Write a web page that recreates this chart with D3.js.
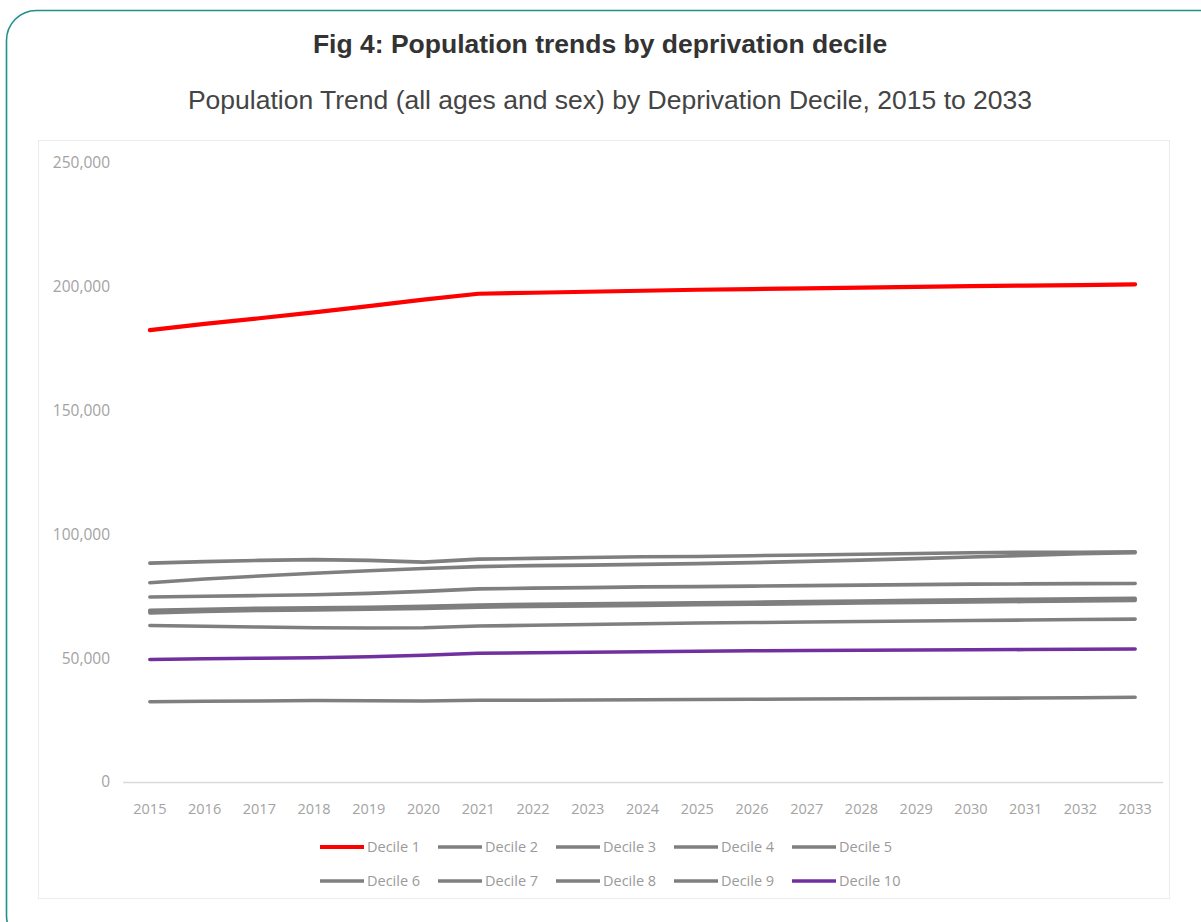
<!DOCTYPE html>
<html>
<head>
<meta charset="utf-8">
<script src="https://cdn.jsdelivr.net/npm/d3@7"></script>
<style>
  html, body { margin: 0; padding: 0; background: #fff; }
  #container { width: 1201px; height: 922px; overflow: hidden; }
</style>
</head>
<body>
<div id="container"></div>
<script>
"use strict";

// Data (thousands converted to people).
const years = ["2015", "2016", "2017", "2018", "2019", "2020", "2021", "2022", "2023", "2024",
  "2025", "2026", "2027", "2028", "2029", "2030", "2031", "2032", "2033"];

const decileNames = ["Decile 1", "Decile 2", "Decile 3", "Decile 4", "Decile 5",
  "Decile 6", "Decile 7", "Decile 8", "Decile 9", "Decile 10"];

const decile1 = [182.5, 185.0, 187.3, 189.7, 192.2, 194.8, 197.2, 197.6, 198.0, 198.4,
  198.8, 199.1, 199.4, 199.7, 200.0, 200.3, 200.5, 200.7, 201.0];
const decile2 = [88.4, 89.0, 89.5, 89.8, 89.5, 88.8, 90.0, 90.3, 90.7, 91.0,
  91.1, 91.4, 91.7, 92.0, 92.3, 92.6, 92.8, 92.8, 93.0];
const decile3 = [80.5, 82.0, 83.2, 84.3, 85.3, 86.2, 87.0, 87.4, 87.6, 87.9,
  88.2, 88.6, 89.1, 89.6, 90.2, 90.9, 91.5, 92.2, 92.6];
const decile4 = [74.7, 75.0, 75.3, 75.6, 76.2, 77.0, 78.0, 78.3, 78.5, 78.8,
  78.9, 79.1, 79.3, 79.5, 79.7, 79.9, 80.0, 80.1, 80.2];
const decile5 = [69.3, 69.8, 70.2, 70.4, 70.6, 71.0, 71.5, 71.8, 72.0, 72.2,
  72.4, 72.6, 72.9, 73.1, 73.4, 73.6, 73.8, 74.0, 74.2];
const decile6 = [69.0, 69.4, 69.8, 70.0, 70.3, 70.6, 71.1, 71.4, 71.6, 71.8,
  72.0, 72.3, 72.5, 72.7, 73.0, 73.2, 73.4, 73.6, 73.8];
const decile7 = [68.3, 68.9, 69.3, 69.5, 69.8, 70.1, 70.6, 70.9, 71.1, 71.3,
  71.6, 71.8, 72.0, 72.3, 72.5, 72.7, 72.9, 73.1, 73.3];
const decile8 = [63.2, 62.9, 62.6, 62.3, 62.2, 62.3, 63.0, 63.3, 63.6, 63.9,
  64.2, 64.4, 64.6, 64.8, 65.0, 65.2, 65.4, 65.6, 65.8];
const decile9 = [32.4, 32.6, 32.7, 32.9, 32.8, 32.7, 33.0, 33.0, 33.1, 33.2,
  33.3, 33.4, 33.5, 33.6, 33.7, 33.8, 33.9, 34.0, 34.2];
const decile10 = [49.5, 49.8, 50.0, 50.2, 50.6, 51.2, 52.0, 52.2, 52.4, 52.6,
  52.8, 53.0, 53.1, 53.2, 53.3, 53.4, 53.5, 53.6, 53.7];

const yTicks = [0, 50000, 100000, 150000, 200000, 250000];

const title = "Fig 4: Population trends by deprivation decile";
const subtitle = "Population Trend (all ages and sex) by Deprivation Decile, 2015 to 2033";

const series = [decile1, decile2, decile3, decile4, decile5,
  decile6, decile7, decile8, decile9, decile10].map((vals, i) => ({
  name: decileNames[i],
  values: vals.map((v) => v * 1000),
}));

const colorFor = (name) =>
  name === "Decile 1" ? "#ff0000" : name === "Decile 10" ? "#7030a0" : "#7f7f7f";

const width = 1201;
const height = 922;
const font = "'Liberation Sans', Arial, sans-serif";
const chartFont = "'Open Sans', 'Liberation Sans', sans-serif";

const svg = d3.create("svg").attr("width", width).attr("height", height);

// Teal card outline (bottom/right run past the frame).
svg.append("rect")
  .attr("x", 6.5).attr("y", 10.5)
  .attr("width", 1225).attr("height", 935)
  .attr("rx", 30).attr("ry", 30)
  .attr("fill", "#fff")
  .attr("stroke", "#1f8f8a")
  .attr("stroke-width", 1.6);

svg.append("text")
  .attr("x", 600).attr("y", 53)
  .attr("text-anchor", "middle")
  .style("font-family", font).style("font-size", "26.5px").style("font-weight", "bold")
  .attr("fill", "#333")
  .text(title);

svg.append("text")
  .attr("x", 610).attr("y", 109)
  .attr("text-anchor", "middle")
  .style("font-family", font).style("font-size", "26.5px")
  .attr("fill", "#444")
  .text(subtitle);

// Embedded Excel chart area.
svg.append("rect")
  .attr("x", 38.5).attr("y", 140.5)
  .attr("width", 1131).attr("height", 758)
  .attr("fill", "#fff")
  .attr("stroke", "#ececec")
  .attr("stroke-width", 1);

const x = d3.scaleBand().domain(years).range([122.5, 1162.5]);
const y = d3.scaleLinear().domain([0, 250000]).range([782, 163]);

// y axis labels
svg.append("g")
  .attr("transform", "translate(110,0)")
  .style("font-family", chartFont).style("font-size", "15.5px")
  .call(d3.axisLeft(y).tickValues(yTicks).tickSize(0).tickPadding(0).tickFormat(d3.format(",")))
  .call((g) => g.select(".domain").remove())
  .selectAll("text").attr("fill", "#a3a3a3");

// x axis
const xAxis = svg.append("g")
  .attr("transform", "translate(0,782)")
  .style("font-family", chartFont).style("font-size", "14.5px")
  .call(d3.axisBottom(x).tickSize(0).tickPadding(22));
xAxis.select(".domain").attr("stroke", "#d9d9d9").attr("stroke-width", 1.3);
xAxis.selectAll("text").attr("fill", "#a3a3a3");

const line = d3.line()
  .x((d, i) => x(years[i]) + x.bandwidth() / 2)
  .y((d) => y(d));

svg.append("g")
  .selectAll("path")
  .data(series)
  .join("path")
  .attr("fill", "none")
  .attr("stroke", (d) => colorFor(d.name))
  .attr("stroke-width", (d) => (d.name === "Decile 1" ? 4.2 : 3.6))
  .attr("stroke-linecap", "round")
  .attr("stroke-linejoin", "round")
  .attr("d", (d) => line(d.values));

// Legend: two rows of five.
const legend = svg.append("g")
  .style("font-family", chartFont).style("font-size", "14.5px");
const item = legend.selectAll("g")
  .data(series)
  .join("g")
  .attr("transform", (d, i) => `translate(${320 + (i % 5) * 118},${i < 5 ? 847 : 881})`);
item.append("line")
  .attr("x1", 0).attr("x2", 44)
  .attr("stroke", (d) => colorFor(d.name))
  .attr("stroke-width", (d) => (d.name === "Decile 1" ? 4 : 3.5));
item.append("text")
  .attr("x", 47).attr("dy", "0.35em")
  .attr("fill", "#9a9a9a")
  .text((d) => d.name);

d3.select("#container").append(() => svg.node());
</script>
</body>
</html>
